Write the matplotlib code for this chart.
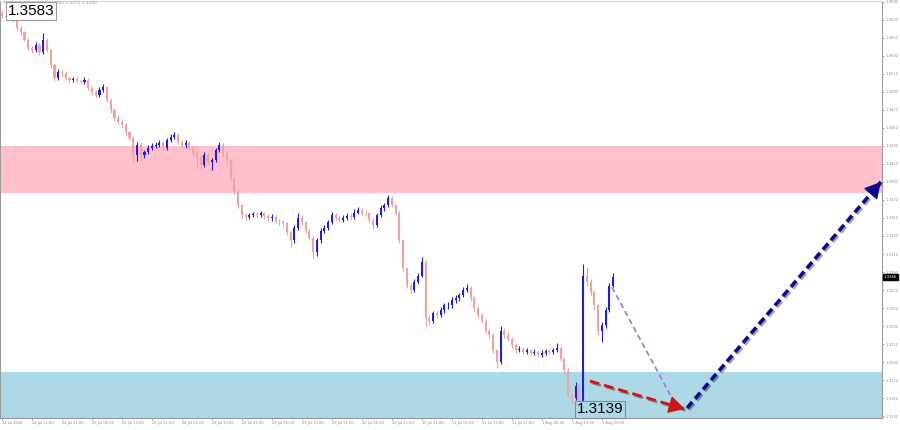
import matplotlib
matplotlib.use("Agg")
import matplotlib.pyplot as plt
from matplotlib import patheffects as pe

# H1 candles (open of each bar = previous close)
first_open = 1.3580
closes = [
    1.3576, 1.3575, 1.3575, 1.3574, 1.3563, 1.3558, 1.3550, 1.3541, 1.3538, 1.3544,
    1.3536, 1.3550, 1.3538, 1.3522, 1.3507, 1.3514, 1.3513, 1.3507, 1.3505, 1.3506,
    1.3504, 1.3503, 1.3505, 1.3496, 1.3492, 1.3488, 1.3494, 1.3497, 1.3483, 1.3472,
    1.3463, 1.3458, 1.3455, 1.3447, 1.3441, 1.3422, 1.3433, 1.3422, 1.3425, 1.3430,
    1.3432, 1.3433, 1.3435, 1.3430, 1.3438, 1.3442, 1.3444, 1.3436, 1.3433, 1.3435,
    1.3430, 1.3424, 1.3420, 1.3411, 1.3422, 1.3414, 1.3416, 1.3427, 1.3433, 1.3422,
    1.3416, 1.3396, 1.3381, 1.3366, 1.3355, 1.3353, 1.3355, 1.3356, 1.3355, 1.3357,
    1.3354, 1.3352, 1.3353, 1.3348, 1.3347, 1.3346, 1.3336, 1.3327, 1.3341, 1.3352,
    1.3347, 1.3338, 1.3330, 1.3314, 1.3327, 1.3338, 1.3341, 1.3347, 1.3355, 1.3352,
    1.3350, 1.3352, 1.3354, 1.3353, 1.3358, 1.3361, 1.3358, 1.3357, 1.3350, 1.3344,
    1.3355, 1.3363, 1.3366, 1.3374, 1.3366, 1.3358, 1.3327, 1.3296, 1.3277, 1.3272,
    1.3281, 1.3288, 1.3303, 1.3241, 1.3238, 1.3246, 1.3244, 1.3250, 1.3255, 1.3255,
    1.3261, 1.3263, 1.3266, 1.3272, 1.3274, 1.3263, 1.3252, 1.3244, 1.3238, 1.3227,
    1.3222, 1.3205, 1.3192, 1.3227, 1.3222, 1.3218, 1.3211, 1.3205, 1.3207, 1.3203,
    1.3205, 1.3202, 1.3203, 1.3200, 1.3202, 1.3204, 1.3203, 1.3205, 1.3208, 1.3196,
    1.3183, 1.3155, 1.3152, 1.3166, 1.3147, 1.3288, 1.3281, 1.3270, 1.3255, 1.3227,
    1.3233, 1.3250, 1.3277, 1.3286,
]
highs = [
    1.3583, 1.3579, 1.3578, 1.3577, 1.3576, 1.3565, 1.3560, 1.3552, 1.3543, 1.3547,
    1.3546, 1.3557, 1.3552, 1.3540, 1.3524, 1.3517, 1.3516, 1.3515, 1.3509, 1.3509,
    1.3508, 1.3506, 1.3508, 1.3507, 1.3498, 1.3494, 1.3497, 1.3501, 1.3499, 1.3485,
    1.3474, 1.3466, 1.3461, 1.3457, 1.3449, 1.3443, 1.3436, 1.3436, 1.3428, 1.3433,
    1.3435, 1.3436, 1.3438, 1.3437, 1.3441, 1.3445, 1.3447, 1.3446, 1.3439, 1.3438,
    1.3437, 1.3432, 1.3426, 1.3422, 1.3425, 1.3424, 1.3419, 1.3430, 1.3436, 1.3435,
    1.3425, 1.3418, 1.3398, 1.3383, 1.3368, 1.3357, 1.3358, 1.3359, 1.3359, 1.3360,
    1.3359, 1.3356, 1.3356, 1.3355, 1.3351, 1.3350, 1.3348, 1.3338, 1.3344, 1.3357,
    1.3355, 1.3349, 1.3340, 1.3332, 1.3330, 1.3341, 1.3344, 1.3350, 1.3359, 1.3358,
    1.3354, 1.3355, 1.3357, 1.3357, 1.3362, 1.3364, 1.3363, 1.3361, 1.3359, 1.3352,
    1.3358, 1.3366, 1.3369, 1.3377, 1.3376, 1.3368, 1.3360, 1.3329, 1.3298, 1.3280,
    1.3284, 1.3291, 1.3309, 1.3305, 1.3244, 1.3249, 1.3249, 1.3253, 1.3258, 1.3259,
    1.3264, 1.3266, 1.3269, 1.3275, 1.3279, 1.3276, 1.3265, 1.3254, 1.3246, 1.3240,
    1.3229, 1.3224, 1.3207, 1.3232, 1.3230, 1.3225, 1.3220, 1.3213, 1.3210, 1.3209,
    1.3208, 1.3207, 1.3206, 1.3205, 1.3205, 1.3207, 1.3206, 1.3208, 1.3213, 1.3210,
    1.3198, 1.3185, 1.3158, 1.3170, 1.3168, 1.3301, 1.3298, 1.3284, 1.3272, 1.3257,
    1.3236, 1.3253, 1.3280, 1.3291,
]
lows = [
    1.3574, 1.3572, 1.3572, 1.3570, 1.3561, 1.3555, 1.3548, 1.3539, 1.3535, 1.3536,
    1.3533, 1.3534, 1.3536, 1.3519, 1.3504, 1.3505, 1.3510, 1.3505, 1.3502, 1.3503,
    1.3502, 1.3501, 1.3501, 1.3494, 1.3489, 1.3485, 1.3486, 1.3492, 1.3481, 1.3469,
    1.3460, 1.3456, 1.3452, 1.3444, 1.3438, 1.3414, 1.3415, 1.3416, 1.3419, 1.3423,
    1.3428, 1.3430, 1.3431, 1.3428, 1.3428, 1.3436, 1.3440, 1.3434, 1.3431, 1.3430,
    1.3428, 1.3421, 1.3406, 1.3406, 1.3409, 1.3411, 1.3405, 1.3414, 1.3425, 1.3420,
    1.3413, 1.3393, 1.3378, 1.3363, 1.3352, 1.3350, 1.3351, 1.3353, 1.3352, 1.3353,
    1.3351, 1.3349, 1.3349, 1.3346, 1.3344, 1.3343, 1.3333, 1.3320, 1.3324, 1.3339,
    1.3344, 1.3335, 1.3327, 1.3307, 1.3310, 1.3324, 1.3335, 1.3339, 1.3345, 1.3350,
    1.3347, 1.3348, 1.3350, 1.3350, 1.3351, 1.3356, 1.3355, 1.3354, 1.3347, 1.3340,
    1.3342, 1.3353, 1.3360, 1.3364, 1.3364, 1.3355, 1.3324, 1.3293, 1.3274, 1.3269,
    1.3270, 1.3279, 1.3286, 1.3231, 1.3233, 1.3235, 1.3241, 1.3242, 1.3247, 1.3251,
    1.3252, 1.3258, 1.3260, 1.3264, 1.3270, 1.3260, 1.3249, 1.3241, 1.3235, 1.3224,
    1.3219, 1.3202, 1.3185, 1.3190, 1.3219, 1.3215, 1.3208, 1.3202, 1.3203, 1.3201,
    1.3201, 1.3200, 1.3200, 1.3198, 1.3198, 1.3200, 1.3201, 1.3201, 1.3203, 1.3193,
    1.3180, 1.3152, 1.3146, 1.3150, 1.3139, 1.3145, 1.3277, 1.3266, 1.3250, 1.3222,
    1.3214, 1.3230, 1.3248, 1.3275,
]

time_labels = [
    "24 Jul 2020", "24 Jul 13:00", "24 Jul 21:00", "25 Jul 05:00", "25 Jul 13:00",
    "25 Jul 21:00", "28 Jul 05:00", "28 Jul 13:00", "28 Jul 21:00", "29 Jul 05:00",
    "29 Jul 13:00", "29 Jul 21:00", "30 Jul 05:00", "30 Jul 13:00", "30 Jul 21:00",
    "31 Jul 05:00", "31 Jul 13:00", "31 Jul 21:00", "1 Aug 05:00", "1 Aug 13:00",
    "1 Aug 21:00",
]
price_ticks = [
    1.3592, 1.3572, 1.3552, 1.3532, 1.3512, 1.3492, 1.3472, 1.3452, 1.3432, 1.3412,
    1.3392, 1.3372, 1.3352, 1.3332, 1.3312, 1.3292, 1.3272, 1.3252, 1.3232, 1.3212,
    1.3192, 1.3172, 1.3152, 1.3132,
]

resistance_zone = (1.3380, 1.3432)
support_zone = (1.3128, 1.3181)
last_price = 1.3286
top_label = 1.3583
bottom_label = 1.3139

# forecast paths (bar index, price)
wave_x, wave_y = [162.7, 178.7], [1.3275, 1.3152]
down_x, down_y = [156.8, 182.1], [1.3171, 1.3140]
up_x, up_y = [182.7, 234.4], [1.3141, 1.3392]

bull = "#1c1ce6"
bear = "#f2a0a0"

fig = plt.figure(figsize=(9, 4.3), dpi=100)
ax = fig.add_axes([0.0, 0.028, 0.98, 0.97])

ax.axhspan(*resistance_zone, color="#ffc0cb", lw=0, zorder=0)
ax.axhspan(*support_zone, color="#add8e6", lw=0, zorder=0)

opens = [first_open] + closes[:-1]
idx = list(range(len(closes)))
cols = [bull if c >= o else bear for o, c in zip(opens, closes)]
bottoms = [min(o, c) for o, c in zip(opens, closes)]
sizes = [max(abs(c - o), 0.00006) for o, c in zip(opens, closes)]
ax.vlines(idx, lows, highs, colors=cols, linewidth=0.8, zorder=2)
ax.bar(idx, sizes, bottom=bottoms, width=0.55, color=cols, zorder=3)

shadow = [pe.SimpleLineShadow(offset=(1.2, -1.2), alpha=0.35), pe.Normal()]

ax.plot(wave_x, wave_y, color="#9b7fe0", lw=1.3, ls=(0, (3, 2)), zorder=4)

ax.plot(down_x, down_y, color="#d01414", lw=2.0, ls=(0, (3.5, 1.8)),
        zorder=5, path_effects=shadow)
ax.annotate("", xy=(down_x[1], down_y[1]),
            xytext=(down_x[1] - 1.5, down_y[1] + 0.00018),
            arrowprops=dict(arrowstyle="-|>,head_length=1.0,head_width=0.55",
                            color="#d01414", lw=1, shrinkA=0, shrinkB=0),
            zorder=6)

ax.plot(up_x, up_y, color="#0a0a8c", lw=2.6, ls=(0, (2.2, 1.2)),
        zorder=5, path_effects=shadow)
ax.annotate("", xy=(up_x[1], up_y[1]),
            xytext=(up_x[1] - 1.2, up_y[1] - 0.00058),
            arrowprops=dict(arrowstyle="-|>,head_length=1.0,head_width=0.55",
                            color="#0a0a8c", lw=1, shrinkA=0, shrinkB=0),
            zorder=6)

ax.text(1.6, 1.35815, f"{top_label:.4f}", family="Liberation Sans", fontsize=11,
        va="center", ha="left", zorder=8,
        bbox=dict(boxstyle="square,pad=0.12", fc="white", ec="#9a9a9a", lw=0.8))
ax.text(153.2, 1.31395, f"{bottom_label:.4f}", family="Liberation Sans", fontsize=11,
        va="center", ha="left", zorder=8,
        bbox=dict(boxstyle="square,pad=0.12", fc="#add8e6", ec="#8a8a8a", lw=0.8))
ax.text(0.6, 1.35905, "GBPUSD,H1  1.3286 1.3290 1.3272 1.3280", fontsize=3.2,
        color="#9a9a9a", va="center", ha="left", zorder=7)

ax.set_xlim(-0.53, 234.7)
ax.set_ylim(1.3130, 1.3593)

ax.yaxis.tick_right()
ax.set_yticks(price_ticks)
ax.set_yticklabels([f"{v:.4f}" for v in price_ticks])
ax.tick_params(axis="y", labelsize=2.7, colors="#8a8a8a", length=1.5, width=0.5, pad=0.8)
ax.text(1.002, last_price, f"{last_price:.4f}", transform=ax.get_yaxis_transform(),
        fontsize=2.7, color="white", va="center", ha="left", zorder=9, clip_on=False,
        bbox=dict(boxstyle="square,pad=0.25", fc="black", ec="black"))

ax.set_xticks([8 * k for k in range(len(time_labels))])
ax.set_xticklabels(time_labels, ha="left")
ax.tick_params(axis="x", labelsize=2.6, colors="#8a8a8a", length=1.5, width=0.5, pad=1)

for side in ["left", "right", "bottom", "top"]:
    ax.spines[side].set_color("#9a9a9a")
    ax.spines[side].set_linewidth(0.8)
ax.spines["top"].set_color("#d8d8d8")

fig.savefig("out.png", dpi=100)
